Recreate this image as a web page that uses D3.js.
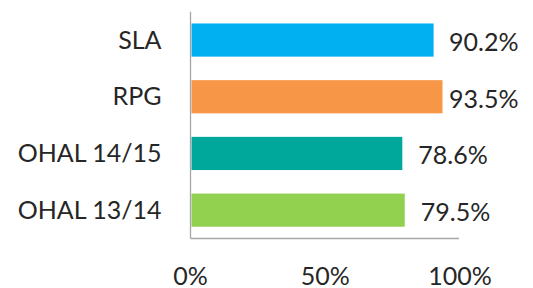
<!DOCTYPE html>
<html>
<head>
<meta charset="utf-8">
<script src="https://cdn.jsdelivr.net/npm/d3@7"></script>
<style>
  html, body { margin: 0; padding: 0; background: #fff; }
  svg { display: block; }
  text { font-family: Lato, "Open Sans", sans-serif; fill: #262626; }
</style>
</head>
<body>
<svg id="chart" width="533" height="288"></svg>
<script>
const categories = ["SLA", "RPG", "OHAL 14/15", "OHAL 13/14"];
const values = [90.2, 93.5, 78.6, 79.5];
const colors = ["#00B0F0", "#F79646", "#00A79B", "#92D050"];
const xTicks = [0, 50, 100];

(function () {
const svg = d3.select("#chart");
const plotLeft = 190.5, plotRight = 460, plotTop = 11.7, plotBottom = 238.5;

const x = d3.scaleLinear().domain([0, 100]).range([plotLeft, plotRight]);
const y = d3.scaleBand().domain(categories).range([plotTop, plotBottom]).paddingInner(0.415).paddingOuter(0.2075);

// bars
svg.append("g").selectAll("rect")
  .data(categories)
  .join("rect")
  .attr("x", x(0) + 1)
  .attr("y", d => y(d))
  .attr("width", (d, i) => x(values[i]) - x(0) - 1)
  .attr("height", y.bandwidth())
  .attr("fill", (d, i) => colors[i]);

// axes lines
svg.append("line")
  .attr("x1", plotLeft).attr("x2", plotLeft)
  .attr("y1", plotTop).attr("y2", plotBottom)
  .attr("stroke", "#A6A6A6").attr("stroke-width", 1.3);
svg.append("line")
  .attr("x1", plotLeft).attr("x2", plotRight - 1)
  .attr("y1", plotBottom).attr("y2", plotBottom)
  .attr("stroke", "#A6A6A6").attr("stroke-width", 1.3);

// category labels
svg.append("g").selectAll("text")
  .data(categories)
  .join("text")
  .attr("x", 161.5)
  .attr("y", d => y(d) + y.bandwidth() / 2 + 8.5)
  .attr("text-anchor", "end")
  .attr("font-size", 25)
  .text(d => d);

// value labels
svg.append("g").selectAll("text")
  .data(values)
  .join("text")
  .attr("x", d => Math.min(x(d) + 16, 449))
  .attr("y", (d, i) => y(categories[i]) + y.bandwidth() / 2 + 11)
  .attr("font-size", 25)
  .text(d => d.toFixed(1) + "%");

// x tick labels
svg.append("g").selectAll("text")
  .data(xTicks)
  .join("text")
  .attr("x", d => x(d))
  .attr("y", 284.5)
  .attr("text-anchor", "middle")
  .attr("font-size", 25)
  .text(d => d + "%");
})();
</script>
</body>
</html>
